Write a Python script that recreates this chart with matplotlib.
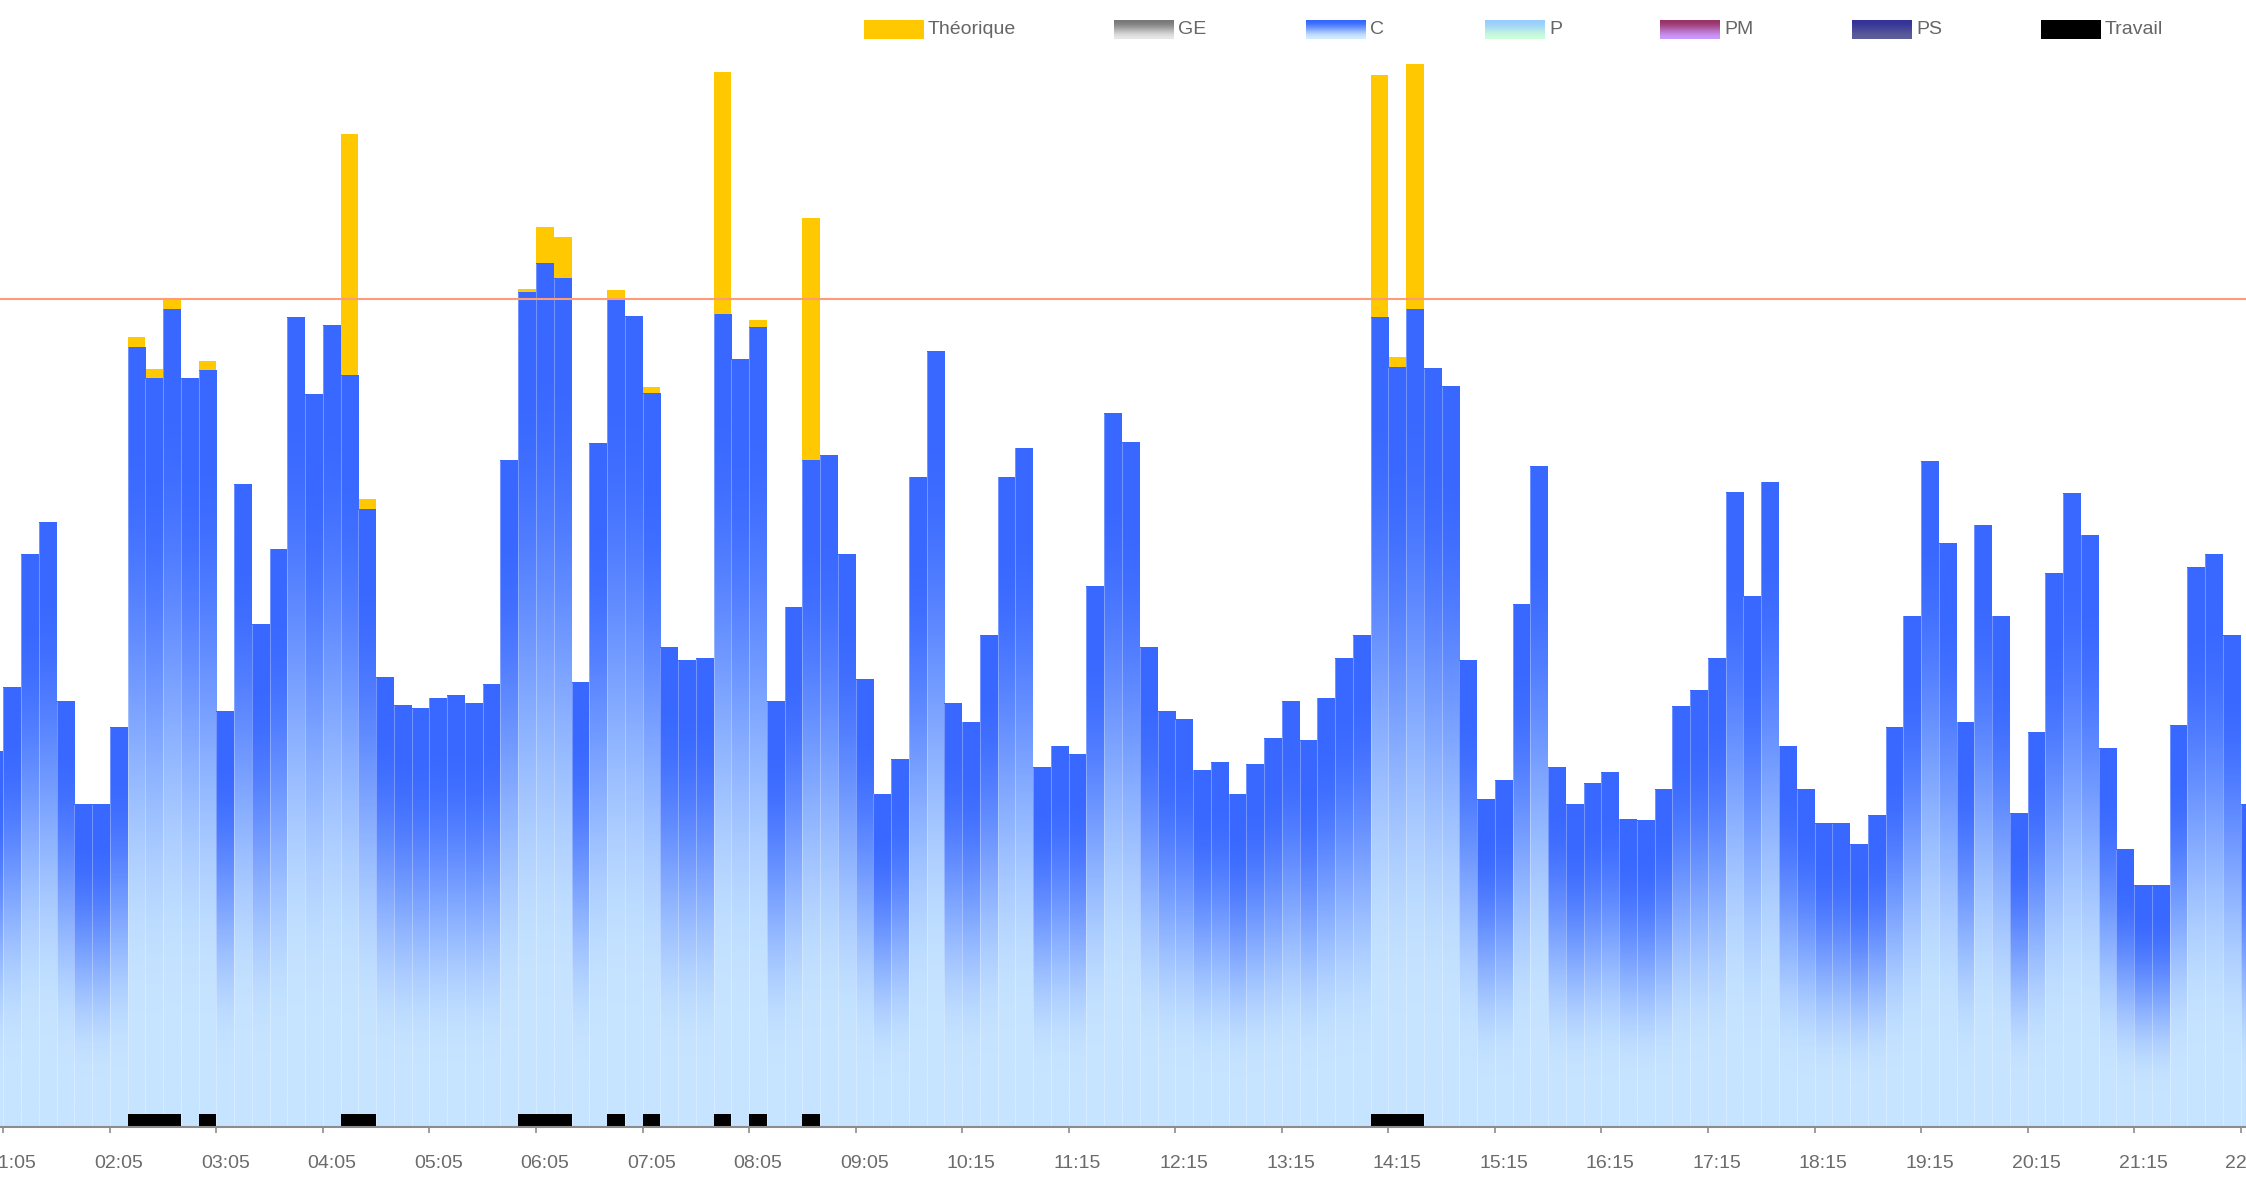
"""Puissance par pas de 10 minutes."""
import numpy as np
import matplotlib

matplotlib.use("Agg")
import matplotlib.pyplot as plt
from matplotlib.colors import to_rgb

plt.rcParams["font.family"] = ["Liberation Sans", "DejaVu Sans"]

# one bar per 10 minutes, first one is the slot just before 01:05
c_values = [
    45.3, 53.1, 69.1, 73.0, 51.4, 38.9, 38.9, 48.2, 94.2, 90.4,
    98.8, 90.4, 91.4, 50.2, 77.6, 60.7, 69.8, 97.8, 88.5, 96.8,
    90.8, 74.6, 54.3, 50.9, 50.5, 51.8, 52.1, 51.2, 53.4, 80.5,
    100.8, 104.3, 102.5, 53.7, 82.5, 100.1, 97.9, 88.6, 57.9, 56.3,
    56.6, 98.2, 92.7, 96.6, 51.4, 62.8, 80.5, 81.1, 69.1, 54.0,
    40.2, 44.4, 78.5, 93.7, 51.1, 48.9, 59.4, 78.5, 82.0, 43.4,
    46.0, 45.0, 65.3, 86.2, 82.7, 57.9, 50.2, 49.2, 43.1, 44.0,
    40.2, 43.8, 46.9, 51.4, 46.7, 51.8, 56.6, 59.4, 97.8, 91.7,
    98.8, 91.6, 89.4, 56.3, 39.5, 41.8, 63.1, 79.8, 43.4, 38.9,
    41.5, 42.8, 37.2, 37.0, 40.8, 50.8, 52.7, 56.6, 76.6, 64.1,
    77.9, 46.0, 40.8, 36.6, 36.6, 34.1, 37.6, 48.2, 61.7, 80.4,
    70.5, 48.9, 72.7, 61.7, 37.9, 47.6, 66.8, 76.5, 71.5, 45.7,
    33.5, 29.2, 29.2, 48.5, 67.6, 69.1, 59.4, 38.9,
]
# theoretical power, only where it goes above C (0 = not shown)
theorique = [
    0, 0, 0, 0, 0, 0, 0, 0, 95.5, 91.6,
    99.9, 0, 92.6, 0, 0, 0, 0, 0, 0, 0,
    120.0, 75.9, 0, 0, 0, 0, 0, 0, 0, 0,
    101.2, 108.7, 107.5, 0, 0, 101.1, 0, 89.4, 0, 0,
    0, 127.5, 0, 97.5, 0, 0, 109.8, 0, 0, 0,
    0, 0, 0, 0, 0, 0, 0, 0, 0, 0,
    0, 0, 0, 0, 0, 0, 0, 0, 0, 0,
    0, 0, 0, 0, 0, 0, 0, 0, 127.1, 93.0,
    128.4, 0, 0, 0, 0, 0, 0, 0, 0, 0,
    0, 0, 0, 0, 0, 0, 0, 0, 0, 0,
    0, 0, 0, 0, 0, 0, 0, 0, 0, 0,
    0, 0, 0, 0, 0, 0, 0, 0, 0, 0,
    0, 0, 0, 0, 0, 0, 0, 0,
]
travail = [
    0, 0, 0, 0, 0, 0, 0, 0, 1, 1,
    1, 0, 1, 0, 0, 0, 0, 0, 0, 0,
    1, 1, 0, 0, 0, 0, 0, 0, 0, 0,
    1, 1, 1, 0, 0, 1, 0, 1, 0, 0,
    0, 1, 0, 1, 0, 0, 1, 0, 0, 0,
    0, 0, 0, 0, 0, 0, 0, 0, 0, 0,
    0, 0, 0, 0, 0, 0, 0, 0, 0, 0,
    0, 0, 0, 0, 0, 0, 0, 0, 1, 1,
    1, 0, 0, 0, 0, 0, 0, 0, 0, 0,
    0, 0, 0, 0, 0, 0, 0, 0, 0, 0,
    0, 0, 0, 0, 0, 0, 0, 0, 0, 0,
    0, 0, 0, 0, 0, 0, 0, 0, 0, 0,
    0, 0, 0, 0, 0, 0, 0, 0,
]
tick_labels = [
    "01:05", "02:05", "03:05", "04:05", "05:05", "06:05", "07:05", "08:05",
    "09:05", "10:15", "11:15", "12:15", "13:15", "14:15", "15:15", "16:15",
    "17:15", "18:15", "19:15", "20:15", "21:15", "22:15",
]
limite = 100.0
travail_height = 1.6

legend_items = [
    ("Théorique", "#ffc800", "#ffc800"),
    ("GE", "#777777", "#e8e8e8"),
    ("C", "#3366ff", "#d4ecff"),
    ("P", "#99ccff", "#ccffd8"),
    ("PM", "#993366", "#cc99ff"),
    ("PS", "#333399", "#5e5e99"),
    ("Travail", "#000000", "#000000"),
]
legend_x = [864, 1114, 1306, 1485, 1660, 1852, 2041]


def gradient(top, bottom, n=256, start=0.0, stop=1.0):
    t = np.linspace(0, 1, n)
    s = np.clip((t - start) / (stop - start), 0, 1)
    s = s * s * (3 - 2 * s)
    a = np.array(to_rgb(top))
    b = np.array(to_rgb(bottom))
    return (a[None, :] * (1 - s[:, None]) + b[None, :] * s[:, None])[:, None, :]


W, H = 2246, 1184
base_px = 1127.3
px_per_unit = 8.279
bar_px = 17.757
x0_px = 3.3
L, R = -40, 2286

fig = plt.figure(figsize=(W / 100, H / 100), dpi=100)
ax = fig.add_axes([L / W, (H - base_px) / H, (R - L) / W, base_px / H])

xs = np.arange(-1, len(c_values) - 1)

# théorique behind
for x, v in zip(xs, theorique):
    if v > 0:
        ax.bar(x, v, width=1, align="edge", color="#ffc800", zorder=1)

# C bars with a vertical gradient (top blue -> light blue)
bar_img = gradient("#3868ff", "#c6e4ff", start=0.1, stop=0.85)
for x, v in zip(xs, c_values):
    ax.imshow(bar_img, extent=(x, x + 1, 0, v), aspect="auto",
              interpolation="bilinear", zorder=2)
    ax.plot([x, x], [0, v], color="white", alpha=0.3, lw=0.7, zorder=2.5)

# travail markers on the baseline
for x, f in zip(xs, travail):
    if f:
        ax.bar(x, travail_height, width=1, align="edge", color="black",
               zorder=3)

ax.axhline(limite, color="#ff9c78", lw=1.5, zorder=4)

ax.set_xlim((L - x0_px) / bar_px, (R - x0_px) / bar_px)
ax.set_ylim(0, base_px / px_per_unit)

for s in ["top", "left", "right"]:
    ax.spines[s].set_visible(False)
ax.spines["bottom"].set_color("#8c8c8c")
ax.spines["bottom"].set_linewidth(1.5)
ax.spines["bottom"].set_zorder(5)

ticks = np.arange(len(tick_labels)) * 6
ax.set_xticks(ticks)
ax.set_xticklabels([])
ax.tick_params(axis="x", which="major", length=4, width=1.2, color="#8c8c8c")
ax.set_xticks(ticks + 0.5, minor=True)
ax.set_xticklabels(tick_labels, minor=True)
ax.tick_params(axis="x", which="minor", length=0, pad=20,
               labelsize=14, labelcolor="#6b6b6b")
ax.set_yticks([])

# legend drawn in pixel coordinates on top of everything
lax = fig.add_axes([0, 0, 1, 1], zorder=5)
lax.set_axis_off()
for (name, top, bottom), lx in zip(legend_items, legend_x):
    lax.imshow(gradient(top, bottom), extent=(lx, lx + 60, 39, 20),
               aspect="auto", interpolation="bilinear")
    lax.text(lx + 64, 29.5, name, va="center", ha="left", fontsize=14,
             color="#666666")
lax.set_xlim(0, W)
lax.set_ylim(H, 0)

fig.savefig("out.png", dpi=100)
